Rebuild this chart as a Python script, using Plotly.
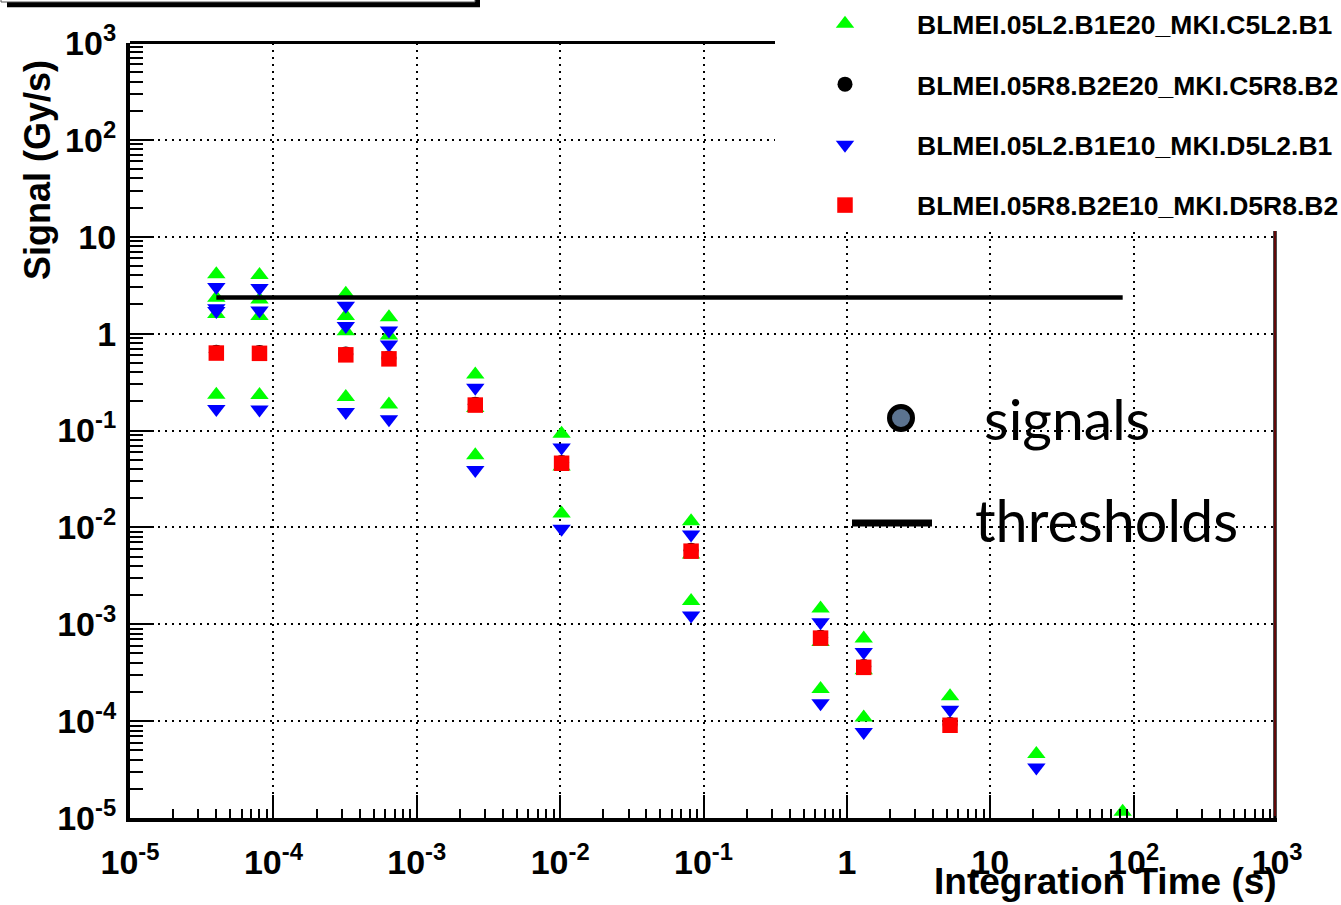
import plotly.graph_objects as go

# BLM running-sum integration times (s)
rs_time = [4e-5, 8e-5, 3.2e-4, 6.4e-4, 2.56e-3, 1.024e-2, 8.192e-2,
           0.65536, 1.31072, 5.24288, 20.97152, 83.88608]

# BLMEI.05L2.B1E20_MKI.C5L2.B1
c5l2_t = [rs_time[0]] * 4 + [rs_time[1]] * 4 + [rs_time[2]] * 4 + [rs_time[3]] * 3 \
    + [rs_time[4]] * 3 + [rs_time[5]] * 3 + [rs_time[6]] * 3 + [rs_time[7]] * 3 \
    + [rs_time[8]] * 3 + [rs_time[9], rs_time[10], rs_time[11]]
c5l2_sig = [4.11, 2.35, 1.59, 0.234,
            4.02, 2.25, 1.52, 0.232,
            2.58, 1.52, 1.06, 0.222,
            1.48, 0.955, 0.185,
            0.378, 0.171, 0.0556,
            0.0925, 0.0425, 0.0139,
            0.0116, 0.00526, 0.00174,
            1.45e-3, 6.55e-4, 2.15e-4,
            7.12e-4, 3.35e-4, 1.09e-4,
            1.81e-4, 4.58e-5, 1.16e-5]

# BLMEI.05R8.B2E20_MKI.C5R8.B2
c5r8_t = rs_time[:10]
c5r8_sig = [0.643, 0.639, 0.616, 0.560, 0.187, 0.0468, 0.00579,
            7.33e-4, 3.66e-4, 9.24e-5]

# BLMEI.05L2.B1E10_MKI.D5L2.B1
d5l2_t = [rs_time[0]] * 4 + [rs_time[1]] * 3 + [rs_time[2]] * 3 + [rs_time[3]] * 3 \
    + [rs_time[4]] * 2 + [rs_time[5]] * 2 + [rs_time[6]] * 2 + [rs_time[7]] * 2 \
    + [rs_time[8]] * 2 + [rs_time[9], rs_time[10]]
d5l2_sig = [3.02, 1.83, 1.71, 0.167,
            2.95, 1.73, 0.165,
            1.94, 1.20, 0.155,
            1.08, 0.771, 0.131,
            0.276, 0.0391,
            0.0668, 0.00969,
            0.00842, 0.00123,
            1.05e-3, 1.53e-4,
            5.17e-4, 7.73e-5,
            1.31e-4, 3.32e-5]

# BLMEI.05R8.B2E10_MKI.D5R8.B2
d5r8_t = rs_time[:10]
d5r8_sig = [0.630, 0.626, 0.604, 0.549, 0.183, 0.0459, 0.00568,
            7.19e-4, 3.59e-4, 9.06e-5]

# Threshold per running sum (Gy/s)
thr_sig = [2.355] * 12

x_ticks = [1e-5, 1e-4, 1e-3, 1e-2, 1e-1, 1, 10, 1e2, 1e3]
x_tick_text = ["10<sup>-5</sup>", "10<sup>-4</sup>", "10<sup>-3</sup>", "10<sup>-2</sup>",
               "10<sup>-1</sup>", "1", "10", "10<sup>2</sup>", "10<sup>3</sup>"]
y_ticks = x_ticks
y_tick_text = x_tick_text

# Figure geometry in pixels
W, H = 1341, 905
ML, MR, MT, MB = 130, 64, 43, 87
PW, PH = W - ML - MR, H - MT - MB


def px(xp):
    return (xp - ML) / PW


def py(yp):
    return (H - MB - yp) / PH


minor_vals = [k * 10.0 ** e for e in range(-5, 3) for k in range(2, 10)]

FONT = "Liberation Sans"

fig = go.Figure()

series = [
    ("BLMEI.05L2.B1E20_MKI.C5L2.B1", c5l2_t, c5l2_sig, "triangle-up", "#00ff00", 16),
    ("BLMEI.05R8.B2E20_MKI.C5R8.B2", c5r8_t, c5r8_sig, "circle", "#000000", 15),
    ("BLMEI.05L2.B1E10_MKI.D5L2.B1", d5l2_t, d5l2_sig, "triangle-down", "#0000ff", 16),
    ("BLMEI.05R8.B2E10_MKI.D5R8.B2", d5r8_t, d5r8_sig, "square", "#ff0000", 15.5),
]
for i, (name, xs, ys, sym, col, size) in enumerate(series):
    fig.add_trace(go.Scatter(
        x=xs, y=ys, mode="markers", name=name, legendgroup=f"g{i}",
        marker=dict(symbol=sym, color=col, size=size, line=dict(width=0)),
        cliponaxis=False,
    ))

fig.add_trace(go.Scatter(
    x=rs_time, y=thr_sig, mode="lines", showlegend=False,
    line=dict(color="black", width=4.5),
))

axis_common = dict(
    type="log", range=[-5, 3], tickmode="array",
    showline=True, linecolor="black", linewidth=4, mirror=False,
    ticks="inside", tickcolor="black", tickwidth=2,
    showgrid=True, gridcolor="black", gridwidth=2, griddash="2px,5px",
    zeroline=False,
    tickfont=dict(family=FONT, size=34, color="black", weight="bold"),
)

fig.update_xaxes(
    **axis_common, tickvals=x_ticks, ticktext=x_tick_text, ticklen=23,
    ticklabelstandoff=11,
    minor=dict(tickmode="array", tickvals=minor_vals, ticks="inside",
               ticklen=9, tickwidth=1.5, tickcolor="black", showgrid=False),
)
fig.update_yaxes(
    **axis_common, tickvals=y_ticks, ticktext=y_tick_text, ticklen=24,
    ticklabelstandoff=3,
    minor=dict(tickmode="array", tickvals=minor_vals, ticks="inside",
               ticklen=13, tickwidth=1.5, tickcolor="black", showgrid=False),
)

shapes = [
    # legend panel background
    dict(type="rect", xref="paper", yref="paper", layer="above",
         x0=px(775), x1=px(1341), y0=py(231), y1=py(0),
         fillcolor="white", line=dict(width=0)),
    # frame top and right edges
    dict(type="line", xref="paper", yref="paper", layer="above",
         x0=px(130), x1=px(775), y0=py(42.5), y1=py(42.5),
         line=dict(color="black", width=3)),
    dict(type="line", xref="paper", yref="paper", layer="above",
         x0=px(1275), x1=px(1275), y0=py(231), y1=py(820),
         line=dict(color="black", width=3.4)),
    dict(type="line", xref="paper", yref="paper", layer="above",
         x0=px(1275), x1=px(1275), y0=py(231), y1=py(816),
         line=dict(color="#c01010", width=1)),
    # title box with shadow
    dict(type="rect", xref="paper", yref="paper", layer="above",
         x0=px(7), x1=px(480), y0=py(7.3), y1=py(-30),
         fillcolor="black", line=dict(width=0)),
    dict(type="rect", xref="paper", yref="paper", layer="above",
         x0=px(1), x1=px(475), y0=py(2), y1=py(-30),
         fillcolor="white", line=dict(color="#555555", width=1)),
    # signals / thresholds key
    dict(type="circle", xref="paper", yref="paper", layer="above",
         x0=px(901 - 11.5), x1=px(901 + 11.5), y0=py(418 + 11.5), y1=py(418 - 11.5),
         fillcolor="#5b7390", line=dict(color="black", width=5)),
    dict(type="line", xref="paper", yref="paper", layer="above",
         x0=px(852), x1=px(932), y0=py(523), y1=py(523),
         line=dict(color="black", width=7)),
]

annotations = [
    dict(text="Signal (Gy/s)", xref="paper", yref="paper", x=px(38), y=py(170),
         xanchor="center", yanchor="middle", textangle=-90, showarrow=False,
         font=dict(family=FONT, size=36, color="black", weight="bold")),
    dict(text="Integration Time (s)", xref="paper", yref="paper", x=px(1279), y=py(881),
         xanchor="right", yanchor="middle", showarrow=False,
         font=dict(family=FONT, size=37, color="black", weight="bold")),
    dict(text="signals", xref="paper", yref="paper", x=px(982), y=py(418),
         xanchor="left", yanchor="middle", showarrow=False,
         font=dict(family="Lato", size=57, color="black")),
    dict(text="thresholds", xref="paper", yref="paper", x=px(973), y=py(519),
         xanchor="left", yanchor="middle", showarrow=False,
         font=dict(family="Lato", size=57.5, color="black")),
]

fig.update_layout(
    width=W, height=H,
    margin=dict(l=ML, r=MR, t=MT, b=MB, autoexpand=False),
    paper_bgcolor="white", plot_bgcolor="white",
    showlegend=True,
    legend=dict(x=px(773), xanchor="left", y=py(0), yanchor="top",
                bgcolor="rgba(0,0,0,0)", borderwidth=0,
                itemwidth=134, tracegroupgap=23,
                font=dict(family=FONT, size=26.5, color="black", weight="bold")),
    shapes=shapes, annotations=annotations,
)

fig.write_html("out.html")
